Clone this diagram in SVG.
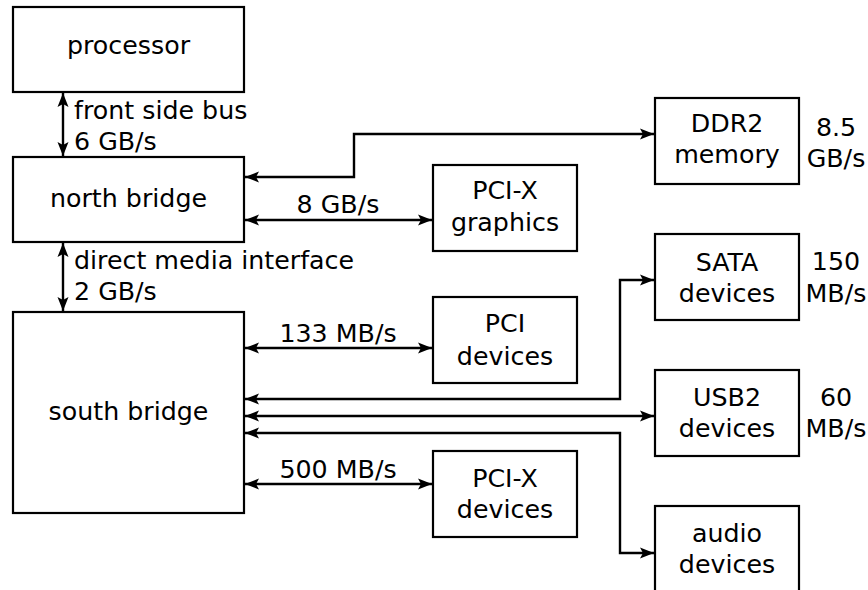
<svg xmlns="http://www.w3.org/2000/svg" width="868" height="590" viewBox="0 0 868 590">
<style>
.box{fill:#fff;stroke:#000;stroke-width:2.2}
text{font-family:"DejaVu Sans","Liberation Sans",sans-serif;font-size:25.3px;fill:#000}
.c{text-anchor:middle}
.conn path{fill:none;stroke:#000;stroke-width:2.4;marker-start:url(#ah);marker-end:url(#ah)}
</style>
<defs>
<marker id="ah" markerUnits="userSpaceOnUse" viewBox="0 0 14 12" refX="14" refY="6" markerWidth="14" markerHeight="12" orient="auto-start-reverse">
<path d="M0,0.5 L14,6 L0,11.5 L3,6 z" fill="#000"/>
</marker>
</defs>
<rect width="868" height="590" fill="#fff"/>
<g class="conn" id="connectors">
<path d="M63,93 V156"/>
<path d="M245,177 H354 V134 H654"/>
<path d="M245,220 H432"/>
<path d="M63,243 V311"/>
<path d="M245,348 H432"/>
<path d="M245,399 H620 V280 H654"/>
<path d="M245,416 H654"/>
<path d="M245,433 H620 V553 H654"/>
<path d="M245,484 H432"/>
</g>
<g id="labels">
<text x="74" y="119">front side bus</text>
<text x="74" y="150">6 GB/s</text>
<text x="74" y="269">direct media interface</text>
<text x="74" y="300">2 GB/s</text>
<text class="c" x="338" y="213">8 GB/s</text>
<text class="c" x="338" y="342">133 MB/s</text>
<text class="c" x="338" y="478">500 MB/s</text>
<text class="c" x="836" y="136">8.5</text>
<text class="c" x="836" y="167">GB/s</text>
<text class="c" x="836" y="270">150</text>
<text class="c" x="836" y="302">MB/s</text>
<text class="c" x="836" y="406">60</text>
<text class="c" x="836" y="437">MB/s</text>
</g>
<g id="processor"><rect class="box" x="13" y="7" width="231" height="85"/><text class="c" x="128.5" y="54">processor</text></g>
<g id="north-bridge"><rect class="box" x="13" y="157" width="231" height="85"/><text class="c" x="128.5" y="206.5">north bridge</text></g>
<g id="south-bridge"><rect class="box" x="13" y="312" width="231" height="201"/><text class="c" x="128.5" y="420">south bridge</text></g>
<g id="ddr2"><rect class="box" x="655" y="98" width="144" height="86"/><text class="c" x="727" y="132">DDR2</text><text class="c" x="727" y="163">memory</text></g>
<g id="pcix-graphics"><rect class="box" x="433" y="165" width="144" height="86"/><text class="c" x="505" y="199">PCI-X</text><text class="c" x="505" y="231">graphics</text></g>
<g id="sata"><rect class="box" x="655" y="234" width="144" height="86"/><text class="c" x="727" y="270.5">SATA</text><text class="c" x="727" y="301.5">devices</text></g>
<g id="pci"><rect class="box" x="433" y="297" width="144" height="86"/><text class="c" x="505" y="332">PCI</text><text class="c" x="505" y="364.5">devices</text></g>
<g id="usb2"><rect class="box" x="655" y="370" width="144" height="86"/><text class="c" x="727" y="406">USB2</text><text class="c" x="727" y="437">devices</text></g>
<g id="pcix-devices"><rect class="box" x="433" y="451" width="144" height="86"/><text class="c" x="505" y="486.5">PCI-X</text><text class="c" x="505" y="518">devices</text></g>
<g id="audio"><rect class="box" x="655" y="506" width="144" height="86"/><text class="c" x="727" y="541.5">audio</text><text class="c" x="727" y="573">devices</text></g>
</svg>
